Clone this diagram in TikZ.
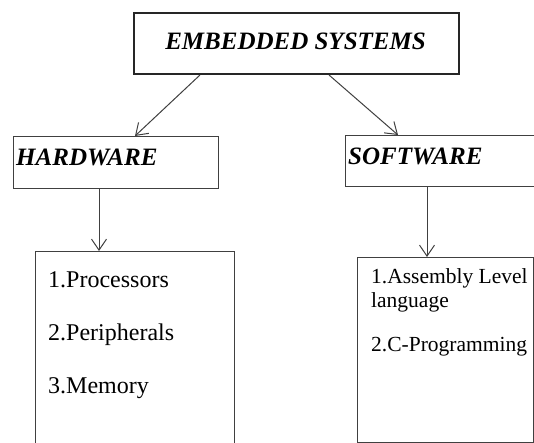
\documentclass[tikz,border=0pt]{standalone}
\usepackage{fontspec}
\setmainfont{Liberation Serif}
\usetikzlibrary{arrows.meta,calc}
\definecolor{linegray}{HTML}{404040}
\tikzset{
  box/.style={draw=linegray, line width=1.3pt, rectangle, inner sep=0pt, anchor=north west},
  arr/.style={draw=linegray, line width=1pt, -{Straight Barb[length=11pt,width=15pt,line width=1pt]}},
  head/.style={inner sep=0pt, anchor=base west, font=\fontsize{25}{30}\selectfont\bfseries\itshape},
  item/.style={inner sep=0pt, anchor=base west, font=\fontsize{24}{28}\selectfont},
  sitem/.style={inner sep=0pt, anchor=base west, align=left, font=\fontsize{21.5}{24}\selectfont}
}
\begin{document}
\begin{tikzpicture}[x=1pt, y=-1pt]
  \useasboundingbox (0,0) rectangle (534,443);
  \fill[white] (0,0) rectangle (534,443);

  % boxes
  \node[box, line width=2pt, draw=black!85, minimum width=325pt, minimum height=61pt] (top) at (133,12) {};
  \node[box, minimum width=205pt, minimum height=52pt] (hw) at (13,136) {};
  \node[box, minimum width=195pt, minimum height=51pt] (sw) at (345,135) {};
  \node[box, minimum width=199pt, minimum height=200pt] (hwlist) at (35,251) {};
  \node[box, minimum width=176pt, minimum height=185pt] (swlist) at (357,257) {};

  % labels
  \node[head, anchor=base] (toptext) at (295.5,50) {EMBEDDED SYSTEMS};
  \node[head] (hwtext) at (16,166) {HARDWARE};
  \node[head] (swtext) at (348,165) {SOFTWARE};

  \node[item] (p1) at (48,287) {1.Processors};
  \node[item] (p2) at (48,340) {2.Peripherals};
  \node[item] (p3) at (48,393) {3.Memory};

  % the base of a two-line node is the baseline of its last line
  \node[sitem] (s1) at (371,307) {1.Assembly Level\\language};
  \node[sitem] (s2) at (371,351) {2.C-Programming};

  % connectors
  \draw[arr] ([xshift=67pt]top.south west) -- ([xshift=122pt]hw.north west);
  \draw[arr] ([xshift=196pt]top.south west) -- ([xshift=53pt]sw.north west);
  \draw[arr] ([xshift=86pt]hw.south west) -- ([xshift=64pt]hwlist.north west);
  \draw[arr] ([xshift=82pt]sw.south west) -- ([xshift=70pt]swlist.north west);
\end{tikzpicture}
\end{document}
